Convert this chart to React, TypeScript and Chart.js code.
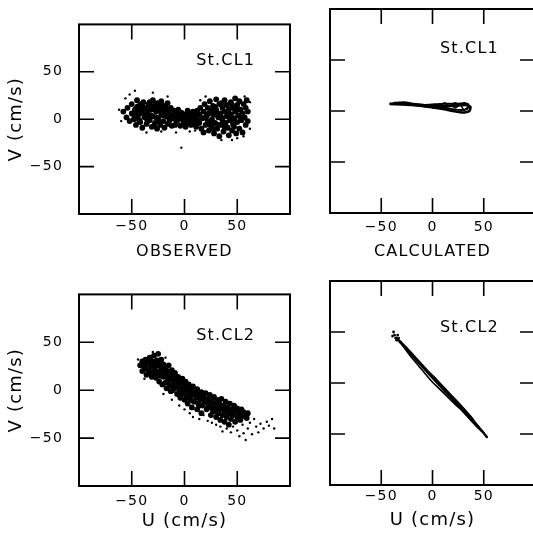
import React, { useEffect, useRef } from 'react';
import { Chart, registerables } from 'chart.js';

Chart.register(...registerables);

// ---------- data ----------
const tickValues = [-50, 0, 50];
const axisMin = -100;
const axisMax = 100;

const stationLabels = ['St.CL1', 'St.CL1', 'St.CL2', 'St.CL2'];
const xTitles = ['OBSERVED', 'CALCULATED', 'U (cm/s)', 'U (cm/s)'];
const yTitle = 'V (cm/s)';

// Observed current vectors at St.CL1 (u, v in cm/s)
const cl1Observed: number[][] = [
  [-58, 8], [-55, 2], [-54, 12], [-52, -2], [-50, 6], [-50, 16], [-48, 0], [-47, 10], [-46, -6], [-45, 20],
  [-44, 4], [-43, 14], [-42, -3], [-41, 8], [-40, -9], [-39, 18], [-38, 2], [-37, 12], [-36, -5], [-35, 6],
  [-34, 16], [-33, -1], [-32, 10], [-31, -8], [-30, 20], [-30, 3], [-29, 14], [-28, -4], [-27, 8], [-26, 17],
  [-26, -10], [-25, 1], [-24, 12], [-23, -6], [-22, 5], [-22, 19], [-21, 15], [-20, -2], [-20, 9], [-19, -9],
  [-18, 13], [-17, 3], [-16, -5], [-16, 17], [-15, 8], [-14, -1], [-13, 12], [-12, 4], [-12, -7],
  [-46, 3], [-43, -1], [-39, 6], [-35, -2], [-31, 13], [-27, 2], [-23, 9], [-19, 6], [-15, 2], [-29, -7],
  [-33, 18], [-41, 16], [-25, 15], [-17, 10], [-37, 8], [-45, 13], [-48, 5], [-44, 9], [-40, 13], [-36, 1],
  [-32, 4], [-28, 11], [-24, -2], [-20, 4], [-34, 10],
  [-10, 9], [-10, 1], [-9, -6], [-8, 5], [-7, -2], [-6, 10], [-5, 3], [-4, -7], [-3, 7], [-2, 0],
  [-1, -4], [0, 5], [1, -8], [2, 2], [3, 9], [4, -3], [5, 5], [6, -6], [7, 1], [8, 8],
  [9, -2], [10, 4], [11, -8], [12, 0], [12, 9], [-8, -1], [-4, 2], [0, -1], [4, 1], [8, -5],
  [-6, 6], [2, -5], [6, 3], [10, -4],
  [14, 5], [14, -4], [15, 12], [16, -10], [17, 1], [18, 8], [18, -14], [19, 16], [20, -6], [21, 4],
  [22, 12], [22, -2], [23, -12], [24, 19], [25, 7], [25, -7], [26, 0], [27, 14], [28, -15], [28, 5],
  [29, -4], [30, 10], [30, 21], [31, -10], [32, 2], [33, 16], [33, -18], [34, 6], [35, -6], [36, 12],
  [36, -1], [37, -13], [38, 20], [38, 8], [39, -4], [40, 3], [40, 15], [41, -9], [42, -17], [42, 10],
  [43, -1], [44, 18], [44, 5], [45, -12], [46, 12], [46, -5], [47, 1], [48, 22], [48, 8], [49, -15],
  [50, 15], [50, -3], [51, 4], [52, -10], [52, 19], [53, 10], [54, -1], [55, 6], [55, -14], [56, 16],
  [57, 2], [58, -6], [58, 12], [59, 20], [60, -2], [60, 8],
  [20, 2], [24, -3], [26, 9], [29, 13], [32, -6], [35, 2], [38, -8], [41, 6], [44, 0], [47, -8],
  [50, 10], [53, 2], [31, 6], [27, -10], [35, 17], [45, 15], [23, 6],
];

const cl1ObservedSparse: number[][] = [
  [-62, 10], [-60, -2], [-56, 22], [-52, 26], [-47, 30], [-30, 28], [-16, 24], [-8, -14], [-3, -30], [5, -13],
  [15, 20], [20, 24], [35, -22], [45, -22], [50, -20], [57, 24], [62, 18], [62, -10], [56, -18], [-36, -14],
  [-22, -13], [10, -12],
];

// Observed current vectors at St.CL2
const cl2Observed: number[][] = [
  [-42, 26], [-40, 30], [-40, 20], [-38, 24], [-37, 32], [-36, 16], [-35, 28], [-34, 21], [-33, 34], [-32, 25],
  [-31, 14], [-30, 30], [-30, 19], [-29, 36], [-28, 24], [-27, 13], [-26, 31], [-26, 19], [-25, 38], [-24, 26],
  [-24, 9], [-23, 15], [-22, 32], [-22, 21], [-21, 6], [-20, 27], [-20, 14], [-19, 18], [-18, 24], [-18, 8],
  [-17, 2], [-16, 20], [-16, 13], [-15, 26], [-14, 5], [-14, 16], [-13, -1], [-12, 11], [-12, 21], [-11, 0],
  [-10, 15], [-10, 7], [-9, 18], [-8, 3], [-8, 11], [-7, -4], [-6, 14], [-6, 6], [-5, -1], [-4, 9],
  [-4, -8], [-3, 3], [-2, 12], [-2, -4], [-1, 6], [0, -10], [0, 0], [1, 9], [2, -6], [2, 3],
  [3, -14], [4, 6], [4, -2], [5, -9], [6, 1], [7, -18], [7, -5], [8, 4], [9, -12], [10, -2],
  [11, -7], [12, 1], [12, -20], [13, -14], [14, -4], [15, -10], [16, -2], [16, -24], [17, -16], [18, -7],
  [19, -12], [20, -3], [21, -20], [22, -9], [23, -15], [24, -5], [25, -26], [25, -18], [26, -11], [27, -22],
  [28, -7], [29, -15], [30, -28], [30, -19], [31, -10], [32, -24], [33, -14], [34, -31], [34, -20], [35, -9],
  [36, -26], [37, -16], [38, -33], [38, -22], [39, -12], [40, -28], [41, -18], [42, -36], [42, -24], [43, -14],
  [44, -30], [45, -20], [46, -26], [47, -16], [48, -33], [48, -22], [50, -28], [50, -19], [52, -24], [53, -31],
  [54, -20], [55, -27], [56, -23], [58, -26], [59, -29], [60, -24],
  [-36, 22], [-28, 28], [-32, 18], [-24, 20], [-20, 22], [-12, 16], [-8, 7], [-4, 4], [0, 5], [4, 0],
  [8, -3], [12, -8], [16, -9], [20, -12], [24, -14], [28, -18], [32, -18], [36, -20], [40, -22], [44, -24],
  [-16, 8], [-10, 2], [-2, -1], [6, -10], [14, -16], [22, -18], [30, -22], [-27, 17], [-22, 27], [-38, 28],
  [-34, 30],
];

const cl2ObservedSparse: number[][] = [
  [-20, -4], [-12, -10], [-5, -16], [0, -20], [5, -24], [8, -28], [14, -30], [18, -26], [22, -32], [26, -34],
  [30, -36], [34, -38], [36, -43], [40, -40], [44, -44], [46, -38], [50, -42], [52, -48], [55, -36], [56, -45],
  [58, -52], [60, -40], [62, -34], [64, -46], [66, -30], [68, -38], [70, -44], [72, -35], [75, -40], [78, -33],
  [80, -37], [83, -30], [85, -40], [-44, 32], [-30, 40], [-18, 34], [-38, 12],
];

// Calculated hodograph traces at St.CL1
const cl1CalcLoopA: number[][] = [
  [-42, 7], [-35, 7.5], [-25, 7], [-15, 6], [-5, 5.5], [5, 5], [15, 5], [25, 5.5], [33, 6], [37, 4],
  [36, 0], [30, -1.5], [20, 0], [10, 2], [0, 3.5], [-10, 5], [-20, 6], [-30, 6.5], [-42, 7],
];
const cl1CalcLoopB: number[][] = [
  [-38, 8], [-28, 8.5], [-18, 7], [-8, 6], [2, 6.5], [12, 7], [22, 7], [30, 7.5], [35, 6.5], [34, 2],
  [26, 1], [16, 2.5], [6, 4], [-4, 4.5], [-14, 5.5], [-24, 6.5], [-38, 8],
];
const cl1CalcLoopC: number[][] = [[18, 6], [22, 8], [26, 6], [22, 3], [18, 6]];
const cl1CalcLoopD: number[][] = [[28, 5], [31, 8], [35, 5], [31, 1], [28, 5]];
const cl1CalcLoopE: number[][] = [[8, 6], [12, 8], [15, 5], [11, 3], [8, 6]];

// Calculated hodograph traces at St.CL2
const cl2CalcLoopA: number[][] = [
  [-36, 45], [-28, 36], [-18, 25], [-8, 14], [2, 3], [12, -8], [22, -19], [32, -30], [42, -41], [49, -48],
  [53, -53], [50, -49], [44, -42], [35, -31], [25, -20], [15, -9], [5, 2], [-5, 12], [-15, 23], [-25, 34],
  [-36, 45],
];
const cl2CalcLoopB: number[][] = [
  [-30, 38], [-20, 27], [-10, 16], [0, 5], [8, -3], [16, -10], [26, -20], [34, -29], [40, -36], [38, -36],
  [30, -28], [22, -21], [14, -13], [6, -5], [-2, 3], [-12, 15], [-22, 27], [-30, 38],
];
const cl2CalcDots: number[][] = [
  [-38, 50], [-37, 47], [-36, 44], [-34, 47], [-35, 42], [-33, 44], [-31, 40], [-39, 46],
];

// ---------- rendering ----------
const FONT = '"DejaVu Sans", sans-serif';

const toXY = (arr: number[][]) => arr.map(([x, y]) => ({ x, y }));

const fmtTick = (v: number | string) => {
  const n = Number(v);
  return n < 0 ? '\u2212' + Math.abs(n) : String(n);
};

const dotSet = (arr: number[][], r: number) => ({
  data: toXY(arr),
  pointRadius: r,
  pointBackgroundColor: '#000',
  pointBorderWidth: 0,
  showLine: false,
});

const lineSet = (arr: number[][], w: number) => ({
  data: toXY(arr),
  showLine: true,
  pointRadius: 0,
  borderColor: '#000',
  borderWidth: w,
  tension: 0.2,
});

const framePlugin = {
  id: 'frame',
  beforeDraw(chart: any) {
    chart.ctx.letterSpacing = '1.2px';
  },
  afterDraw(chart: any, _args: any, opts: any) {
    const { ctx, chartArea } = chart;
    const xs = chart.scales.x;
    const ys = chart.scales.y;
    const { left, right, top, bottom } = chartArea;
    ctx.save();
    ctx.strokeStyle = '#000';
    ctx.lineWidth = 1.6;
    const tl = 15;
    ctx.beginPath();
    tickValues.forEach((v) => {
      const px = xs.getPixelForValue(v);
      ctx.moveTo(px, bottom);
      ctx.lineTo(px, bottom - tl);
      ctx.moveTo(px, top);
      ctx.lineTo(px, top + tl);
      const py = ys.getPixelForValue(v);
      ctx.moveTo(left, py);
      ctx.lineTo(left + tl, py);
      ctx.moveTo(right, py);
      ctx.lineTo(right - tl, py);
    });
    ctx.stroke();
    ctx.lineWidth = 2;
    ctx.strokeRect(left, top, right - left, bottom - top);
    if (opts && opts.text) {
      ctx.fillStyle = '#000';
      ctx.font = `16px ${FONT}`;
      ctx.textAlign = 'center';
      ctx.textBaseline = 'middle';
      ctx.fillText(opts.text, xs.getPixelForValue(opts.lx), ys.getPixelForValue(opts.ly));
    }
    ctx.restore();
  },
};

type PanelCfg = {
  left: number;
  top: number;
  w: number;
  h: number;
  padTop: number;
  padRight: number;
  yAxisW: number;
  xAxisH: number;
  xTickPad: number;
  xTitle: string;
  xTitleSize: number;
  xTitlePad: number;
  showY: boolean;
  label: string;
  lx: number;
  ly: number;
  datasets: any[];
};

function Panel({ cfg }: { cfg: PanelCfg }) {
  const ref = useRef<HTMLCanvasElement | null>(null);
  useEffect(() => {
    if (!ref.current) return;
    const chart = new Chart(ref.current, {
      type: 'scatter',
      data: { datasets: cfg.datasets },
      plugins: [framePlugin],
      options: {
        responsive: false,
        animation: false,
        devicePixelRatio: 1,
        layout: { padding: { left: 0, top: cfg.padTop, right: cfg.padRight, bottom: 0 } },
        plugins: {
          legend: { display: false },
          tooltip: { enabled: false },
          frame: { text: cfg.label, lx: cfg.lx, ly: cfg.ly },
        } as any,
        scales: {
          x: {
            type: 'linear',
            min: axisMin,
            max: axisMax,
            afterBuildTicks: (s: any) => {
              s.ticks = tickValues.map((v) => ({ value: v }));
            },
            afterFit: (s: any) => {
              s.height = cfg.xAxisH;
            },
            grid: { display: false, drawTicks: false },
            border: { display: false },
            ticks: {
              padding: cfg.xTickPad,
              color: '#000',
              font: { family: FONT, size: 14 },
              maxRotation: 0,
              autoSkip: false,
              callback: fmtTick,
            },
            title: {
              display: true,
              text: cfg.xTitle,
              color: '#000',
              font: { family: FONT, size: cfg.xTitleSize },
              padding: { top: 0, bottom: cfg.xTitlePad },
            },
          },
          y: {
            type: 'linear',
            min: axisMin,
            max: axisMax,
            afterBuildTicks: (s: any) => {
              s.ticks = tickValues.map((v) => ({ value: v }));
            },
            afterFit: (s: any) => {
              s.width = cfg.yAxisW;
            },
            grid: { display: false, drawTicks: false },
            border: { display: false },
            ticks: {
              display: cfg.showY,
              padding: 16,
              color: '#000',
              font: { family: FONT, size: 14 },
              autoSkip: false,
              callback: fmtTick,
            },
            title: {
              display: cfg.showY,
              text: yTitle,
              color: '#000',
              font: { family: FONT, size: 18 },
              padding: { top: 6, bottom: 0 },
            },
          },
        },
      } as any,
    });
    return () => chart.destroy();
  }, [cfg]);
  return (
    <canvas
      ref={ref}
      width={cfg.w}
      height={cfg.h}
      style={{ position: 'absolute', left: cfg.left, top: cfg.top, width: cfg.w, height: cfg.h }}
    />
  );
}

const panels: PanelCfg[] = [
  {
    left: 0, top: 0, w: 300, h: 270, padTop: 9, padRight: 10, yAxisW: 79, xAxisH: 56, xTickPad: 4,
    xTitle: xTitles[0], xTitleSize: 16, xTitlePad: 9, showY: true, label: stationLabels[0], lx: 39, ly: 62,
    datasets: [dotSet(cl1Observed, 2.9), dotSet(cl1ObservedSparse, 1.2)],
  },
  {
    left: 300, top: 0, w: 240, h: 270, padTop: 9, padRight: 5, yAxisW: 30, xAxisH: 57, xTickPad: 6,
    xTitle: xTitles[1], xTitleSize: 16, xTitlePad: 9, showY: false, label: stationLabels[1], lx: 36, ly: 61,
    datasets: [
      lineSet(cl1CalcLoopA, 2.6), lineSet(cl1CalcLoopB, 2), lineSet(cl1CalcLoopC, 1.5),
      lineSet(cl1CalcLoopD, 1.5), lineSet(cl1CalcLoopE, 1.5),
    ],
  },
  {
    left: 0, top: 270, w: 300, h: 265, padTop: 12, padRight: 10, yAxisW: 79, xAxisH: 49, xTickPad: 7,
    xTitle: xTitles[2], xTitleSize: 18, xTitlePad: 3, showY: true, label: stationLabels[2], lx: 39, ly: 57,
    datasets: [dotSet(cl2Observed, 2.9), dotSet(cl2ObservedSparse, 1.2)],
  },
  {
    left: 300, top: 270, w: 240, h: 265, padTop: 11, padRight: 5, yAxisW: 30, xAxisH: 50, xTickPad: 3,
    xTitle: xTitles[3], xTitleSize: 18, xTitlePad: 4, showY: false, label: stationLabels[3], lx: 36, ly: 54,
    datasets: [lineSet(cl2CalcLoopA, 2.4), lineSet(cl2CalcLoopB, 1.6), dotSet(cl2CalcDots, 1.4)],
  },
];

export default function App() {
  return (
    <div
      style={{
        position: 'absolute',
        left: 0,
        top: 0,
        width: 533,
        height: 535,
        overflow: 'hidden',
        background: '#fff',
      }}
    >
      {panels.map((p, i) => (
        <Panel key={i} cfg={p} />
      ))}
    </div>
  );
}
